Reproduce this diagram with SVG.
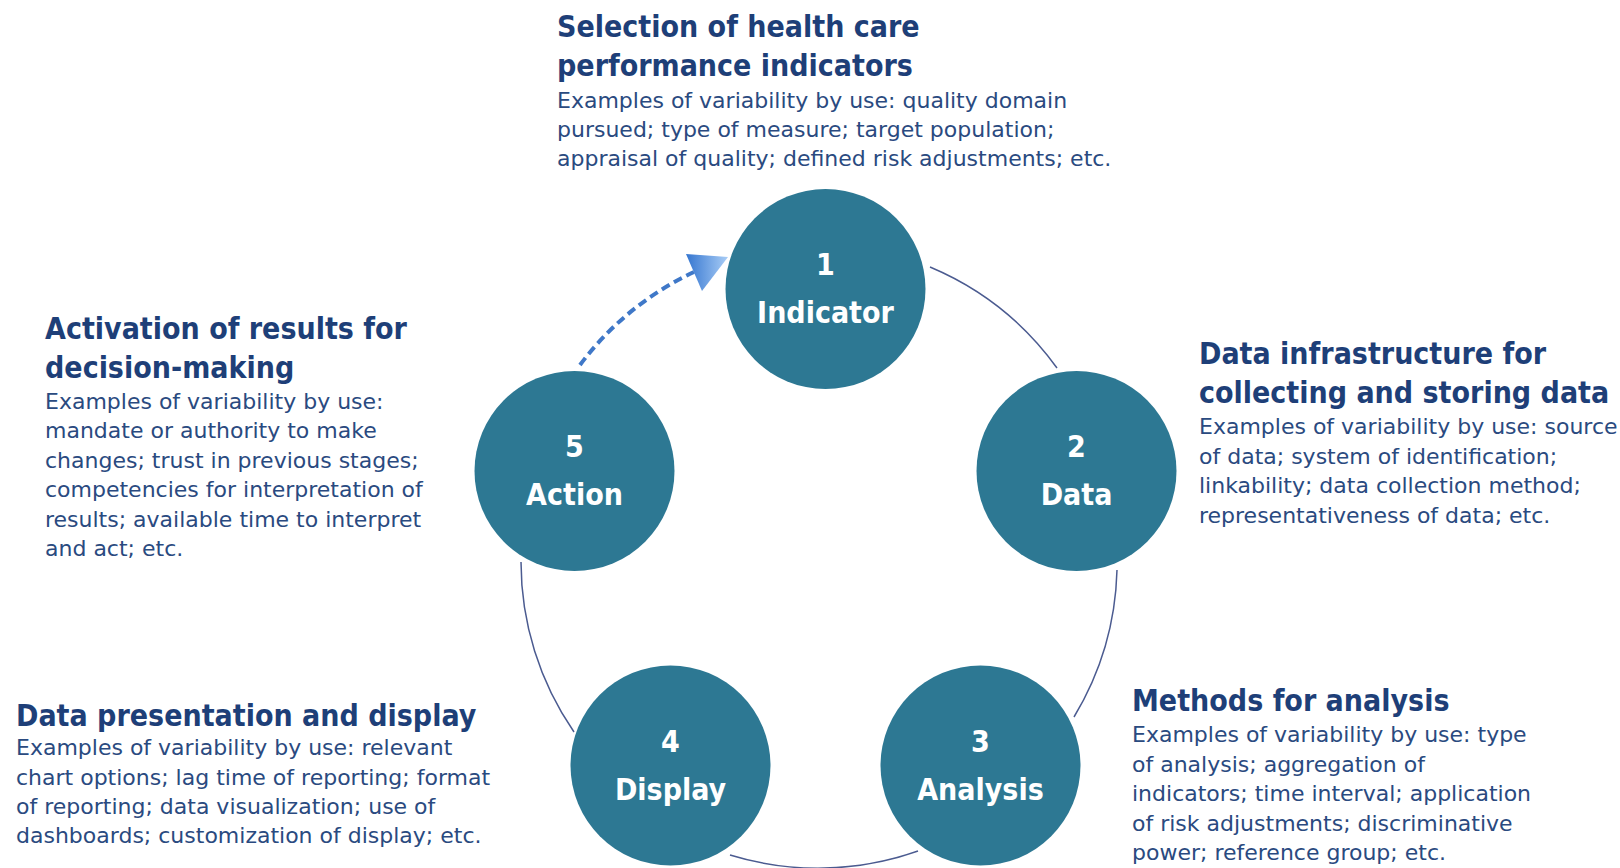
<svg xmlns="http://www.w3.org/2000/svg" width="1620" height="868" viewBox="0 0 1620 868">
<style>
.title{font-family:"DejaVu Sans Condensed","DejaVu Sans",sans-serif;font-stretch:condensed;font-weight:bold;font-size:30px;fill:#1e3f78}
.body{font-family:"DejaVu Sans","Liberation Sans",sans-serif;font-size:22px;fill:#2a4a80}
.node{fill:#2d7893}
.lbl{font-family:"DejaVu Sans Condensed","DejaVu Sans",sans-serif;font-stretch:condensed;font-weight:bold;font-size:30px;fill:#ffffff;text-anchor:middle}
.arc{fill:none;stroke:#4b5b90;stroke-width:1.5}
.dash{fill:none;stroke:#3f78c8;stroke-width:4;stroke-dasharray:9 5}
</style>
<defs>
<linearGradient id="ag" x1="0" y1="0" x2="1" y2="0">
<stop offset="0" stop-color="#3576d0"/>
<stop offset="1" stop-color="#a9cdf6"/>
</linearGradient>
</defs>
<rect width="1620" height="868" fill="#ffffff"/>
<g id="connectors">
<path class="arc" d="M930,267 A300,300 0 0 1 1057,368"/>
<path class="arc" d="M1117,570 A300,300 0 0 1 1074,717"/>
<path class="arc" d="M918,851 A300,300 0 0 1 730,855"/>
<path class="arc" d="M574,732 A300,300 0 0 1 521,562"/>
<path class="dash" d="M580,365 A300,300 0 0 1 694,272"/>
<polygon points="686,254 728,257 702,291" fill="url(#ag)"/>
</g>
<g id="node1">
<circle class="node" cx="825.5" cy="289" r="100"/>
<text class="lbl" x="825.5" y="275">1</text>
<text class="lbl" x="825.5" y="323">Indicator</text>
</g>
<g id="node2">
<circle class="node" cx="1076.5" cy="471" r="100"/>
<text class="lbl" x="1076.5" y="457">2</text>
<text class="lbl" x="1076.5" y="505">Data</text>
</g>
<g id="node3">
<circle class="node" cx="980.5" cy="765.5" r="100"/>
<text class="lbl" x="980.5" y="752">3</text>
<text class="lbl" x="980.5" y="800">Analysis</text>
</g>
<g id="node4">
<circle class="node" cx="670.5" cy="765.5" r="100"/>
<text class="lbl" x="670.5" y="752">4</text>
<text class="lbl" x="670.5" y="800">Display</text>
</g>
<g id="node5">
<circle class="node" cx="574.5" cy="471" r="100"/>
<text class="lbl" x="574.5" y="457">5</text>
<text class="lbl" x="574.5" y="505">Action</text>
</g>
<g id="text-indicator">
<text class="title" x="557" y="37">Selection of health care</text>
<text class="title" x="557" y="76">performance indicators</text>
<text class="body" x="557" y="108">Examples of variability by use: quality domain</text>
<text class="body" x="557" y="137">pursued; type of measure; target population;</text>
<text class="body" x="557" y="166">appraisal of quality; defined risk adjustments; etc.</text>
</g>
<g id="text-action">
<text class="title" x="45" y="339">Activation of results for</text>
<text class="title" x="45" y="378">decision-making</text>
<text class="body" x="45" y="409">Examples of variability by use:</text>
<text class="body" x="45" y="438">mandate or authority to make</text>
<text class="body" x="45" y="468">changes; trust in previous stages;</text>
<text class="body" x="45" y="497">competencies for interpretation of</text>
<text class="body" x="45" y="527">results; available time to interpret</text>
<text class="body" x="45" y="556">and act; etc.</text>
</g>
<g id="text-data">
<text class="title" x="1199" y="364">Data infrastructure for</text>
<text class="title" x="1199" y="403">collecting and storing data</text>
<text class="body" x="1199" y="434">Examples of variability by use: source</text>
<text class="body" x="1199" y="464">of data; system of identification;</text>
<text class="body" x="1199" y="493">linkability; data collection method;</text>
<text class="body" x="1199" y="523">representativeness of data; etc.</text>
</g>
<g id="text-analysis">
<text class="title" x="1132" y="711">Methods for analysis</text>
<text class="body" x="1132" y="742">Examples of variability by use: type</text>
<text class="body" x="1132" y="772">of analysis; aggregation of</text>
<text class="body" x="1132" y="801">indicators; time interval; application</text>
<text class="body" x="1132" y="831">of risk adjustments; discriminative</text>
<text class="body" x="1132" y="860">power; reference group; etc.</text>
</g>
<g id="text-display">
<text class="title" x="16" y="726">Data presentation and display</text>
<text class="body" x="16" y="755">Examples of variability by use: relevant</text>
<text class="body" x="16" y="785">chart options; lag time of reporting; format</text>
<text class="body" x="16" y="814">of reporting; data visualization; use of</text>
<text class="body" x="16" y="843">dashboards; customization of display; etc.</text>
</g>
</svg>
